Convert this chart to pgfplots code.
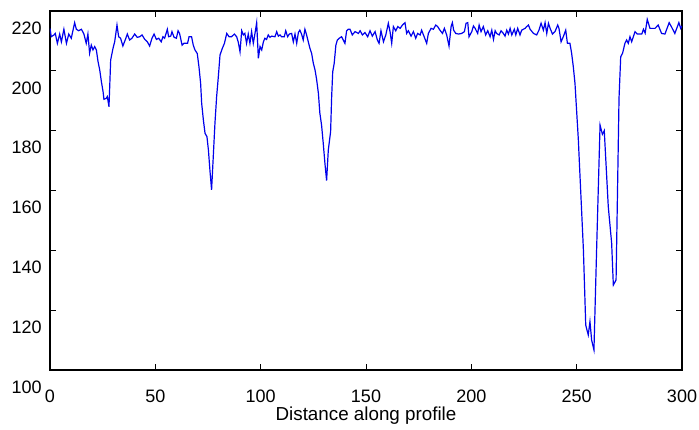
\documentclass[border=0pt]{standalone}
\usepackage{fontspec}
\setmainfont{Liberation Sans}
\usepackage{pgfplots}
\pgfplotsset{compat=1.18}
\begin{document}
\fontsize{9}{10}\selectfont
\begin{tikzpicture}
\useasboundingbox (-25pt,-29.5pt) rectangle (324.5pt,185pt);
\begin{axis}[
  scale only axis,
  width=316pt, height=179.5pt,
  at={(0,0)}, anchor=south west,
  xmin=0, xmax=300, ymin=100, ymax=220,
  xtick={0,50,...,300}, ytick={100,120,...,220},
  tick align=inside, major tick length=3pt,
  axis line style={line width=0.6pt},
  every tick/.style={black, line width=0.5pt},
  /pgf/number format/assume math mode=true,
  tick label style={font=\fontsize{9}{10}\selectfont},
  yticklabel style={yshift=-8.5pt, xshift=-1pt},
  xticklabel style={yshift=-7pt},
  xlabel={Distance along profile},
  xlabel style={at={(axis description cs:0.5,0)}, anchor=center, yshift=-23pt, font=\fontsize{9.4}{10}\selectfont},
]
\addplot[color={rgb,255:red,0;green,0;blue,235}, line width=0.6pt] coordinates {
(0,214.2)(0.6,211.4)(1.9,212.0)(2.5,212.5)(3.5,209.2)(4.6,212.3)(5.4,209.7)(6.6,213.9)(7.8,209.2)(8.9,212.3)
(10.1,210.9)(11.7,216.1)(12.5,213.9)(13.6,213.4)(14.9,213.9)(16.1,212.3)(17.2,209.2)(18.0,212.3)(18.8,205.9)(19.6,208.6)
(20.4,207.0)(21.2,208.1)(22.0,207.0)(22.8,203.1)(23.6,200.3)(24.4,196.4)(25.2,193.0)(25.6,190.5)(26.7,190.8)(27.2,191.4)
(28.0,188.0)(28.8,203.6)(29.9,207.5)(30.7,209.7)(31.8,215.3)(32.6,211.4)(33.5,210.9)(34.6,208.3)(35.8,210.5)(36.7,212.3)
(37.8,210.3)(38.9,210.9)(40.2,212.3)(41.4,211.2)(42.6,211.4)(43.7,212.0)(45.0,210.5)(46.2,209.7)(47.3,208.3)(48.4,210.9)
(49.4,212.3)(50.5,210.5)(51.6,210.9)(52.8,209.7)(53.6,211.4)(54.4,210.9)(55.7,213.9)(56.3,211.4)(57.3,211.6)(57.9,213.1)
(58.9,211.2)(60.0,210.9)(60.8,213.4)(61.5,212.5)(62.7,208.6)(63.6,209.2)(65.3,209.2)(66.0,211.4)(67.2,211.4)(68.0,208.6)
(68.8,207.0)(69.9,205.8)(70.7,201.4)(71.5,195.8)(72.0,189.1)(72.8,183.6)(73.6,179.1)(74.5,178.0)(75.2,173.5)(75.9,166.9)
(76.7,160.2)(77.5,171.3)(78.3,182.5)(79.1,191.4)(79.9,198.0)(80.7,205.3)(81.8,207.5)(82.8,209.2)(83.9,212.5)(85.0,211.4)
(86.2,211.4)(87.5,212.3)(88.6,211.4)(89.4,209.5)(90.2,206.4)(91.0,213.4)(91.8,212.0)(92.5,212.5)(93.3,209.2)(94.1,212.3)
(94.9,209.2)(95.7,213.1)(96.5,209.2)(97.3,212.5)(98.1,216.1)(98.9,204.2)(99.7,208.1)(100.5,207.0)(101.3,209.7)(102.0,210.9)
(102.8,210.5)(103.6,212.0)(104.4,211.2)(105.2,211.6)(106.8,211.4)(107.6,213.1)(108.4,211.6)(109.2,212.0)(109.9,211.4)(111.2,211.4)
(111.9,213.4)(112.8,211.4)(113.6,212.3)(114.7,212.5)(115.5,209.7)(116.3,212.3)(117.1,209.2)(117.9,212.8)(118.6,213.6)(119.4,212.3)
(120.2,210.3)(121.0,213.9)(121.8,212.0)(122.6,209.7)(123.4,207.5)(124.2,205.8)(125.0,202.5)(125.8,200.3)(126.6,196.9)(127.4,192.5)
(128.1,185.8)(128.9,181.9)(129.7,175.8)(130.5,169.1)(131.3,163.3)(132.1,173.5)(133.2,179.7)(133.7,191.4)(134.2,199.7)(134.9,202.5)
(135.7,208.6)(136.4,210.3)(137.3,210.9)(138.4,211.4)(139.2,210.3)(140.0,209.2)(140.8,213.4)(141.6,213.9)(142.4,213.9)(143.5,212.0)
(144.8,213.1)(146.4,212.5)(147.2,213.4)(148.3,212.0)(149.5,212.8)(150.8,211.4)(151.9,213.4)(153.0,211.6)(154.3,213.1)(155.4,210.3)
(156.2,209.2)(157.1,213.4)(158.3,209.7)(159.4,212.0)(160.6,215.9)(161.4,213.1)(162.2,209.2)(163.0,214.8)(164.1,213.4)(165.1,214.8)
(166.2,214.2)(167.3,215.3)(168.5,216.1)(169.3,212.5)(170.1,213.4)(171.4,211.6)(172.5,213.1)(173.6,210.9)(174.5,212.5)(175.7,212.0)
(176.4,213.6)(177.6,211.4)(178.8,209.2)(179.6,212.5)(180.9,214.2)(182.0,213.9)(183.1,215.3)(184.0,214.8)(185.1,213.6)(186.3,212.5)
(187.2,214.2)(188.3,212.0)(189.4,208.3)(190.4,214.8)(191.0,216.1)(191.6,213.6)(192.6,212.5)(193.9,212.3)(195.4,212.5)(196.7,213.1)
(197.5,215.9)(198.3,216.1)(198.9,211.4)(200.2,213.1)(201.0,215.0)(201.8,214.2)(203.0,212.5)(203.7,215.3)(204.6,213.1)(205.7,214.8)
(206.8,212.0)(207.8,213.4)(208.9,211.4)(209.7,213.6)(210.5,210.5)(211.3,213.4)(212.0,212.5)(213.2,212.0)(214.1,213.4)(215.2,212.5)
(216.0,211.6)(216.8,213.6)(217.6,212.3)(218.4,214.2)(219.2,212.0)(220.4,213.9)(221.1,212.0)(222.0,214.2)(223.1,212.0)(223.9,213.6)
(225.5,214.2)(226.3,214.8)(227.1,215.3)(227.9,213.9)(229.5,212.5)(231.0,212.0)(232.1,213.6)(233.1,215.9)(234.2,213.6)(235.0,216.1)
(235.8,212.5)(236.6,215.9)(237.4,214.2)(238.5,212.3)(239.7,213.1)(241.0,215.3)(241.6,214.2)(242.6,209.7)(243.7,211.5)(244.8,213.6)
(245.6,209.2)(246.8,209.2)(247.6,205.9)(248.4,201.4)(249.2,195.8)(250.8,176.9)(251.3,169.1)(252.4,152.4)(253.2,140.1)(254.3,115.0)
(255.5,111.7)(256.3,116.2)(257.1,110.0)(258.2,106.7)(259.5,141.2)(261.1,181.9)(262.2,178.8)(263.1,180.0)(265.0,154.6)(266.6,142.4)
(267.4,128.4)(268.7,130.1)(270.1,190.8)(270.9,204.7)(271.8,205.9)(272.9,209.2)(273.7,210.3)(274.5,209.2)(275.3,211.4)(276.1,209.7)
(277.7,213.1)(278.8,212.3)(280.9,212.3)(281.7,213.9)(282.5,212.6)(283.5,217.2)(284.8,214.2)(287.2,214.2)(288.7,215.3)(290.3,212.5)
(291.9,212.3)(293.9,216.1)(295.0,214.7)(296.6,212.5)(298.5,216.1)(299.4,214.2)(300,215.0)
};
\end{axis}
\end{tikzpicture}
\end{document}
